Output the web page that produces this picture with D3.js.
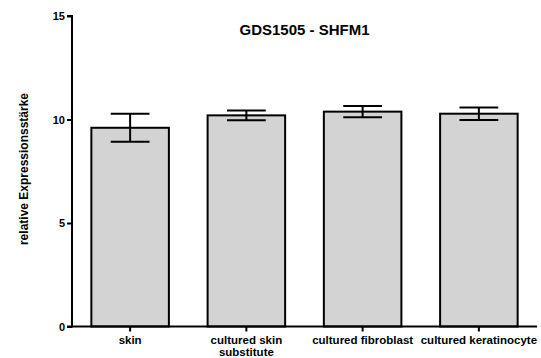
<!DOCTYPE html>
<html>
<head>
<meta charset="utf-8">
<script src="https://cdn.jsdelivr.net/npm/d3@7"></script>
<style>
  html, body { margin: 0; padding: 0; background: #fff; }
  text { font-family: "Liberation Sans", Arial, sans-serif; font-weight: bold; fill: #000; }
</style>
</head>
<body>
<svg id="chart" width="541" height="358"></svg>
<script>
// Mean expression per sample type with standard error
const categories = ["skin", "cultured skin\nsubstitute", "cultured fibroblast", "cultured keratinocyte"];
const means = [9.6, 10.2, 10.38, 10.28];
const errors = [0.68, 0.24, 0.27, 0.3];
const yTicks = [0, 5, 10, 15];
const title = "GDS1505 - SHFM1";
const yLabel = "relative Expressionsstärke";

const svg = d3.select("#chart");
const plotLeft = 72, plotRight = 537, plotTop = 16, plotBottom = 326.5;

const x = d3.scaleBand().domain(categories).range([plotLeft, plotRight]).paddingInner(0.333).paddingOuter(0.1665);
const y = d3.scaleLinear().domain([0, 15]).range([plotBottom, plotTop]);

// Bars
svg.append("g").selectAll("rect").data(categories).join("rect")
  .attr("x", d => x(d))
  .attr("y", (d, i) => y(means[i]))
  .attr("width", x.bandwidth())
  .attr("height", (d, i) => y(0) - y(means[i]))
  .attr("fill", "#d3d3d3")
  .attr("stroke", "#000")
  .attr("stroke-width", 2);

// Error bars
const eb = svg.append("g").attr("stroke", "#000").attr("stroke-width", 2);
categories.forEach((c, i) => {
  const cx = x(c) + x.bandwidth() / 2;
  const cap = x.bandwidth() / 4;
  const hi = y(means[i] + errors[i]), lo = y(means[i] - errors[i]);
  eb.append("line").attr("x1", cx).attr("x2", cx).attr("y1", hi).attr("y2", lo);
  eb.append("line").attr("x1", cx - cap).attr("x2", cx + cap).attr("y1", hi).attr("y2", hi);
  eb.append("line").attr("x1", cx - cap).attr("x2", cx + cap).attr("y1", lo).attr("y2", lo);
});

// Y axis
const yAxis = svg.append("g").attr("transform", `translate(${plotLeft},0)`)
  .call(d3.axisLeft(y).tickValues(yTicks).tickSize(5).tickPadding(2).tickFormat(d3.format("d")));
yAxis.select(".domain").attr("stroke-width", 2).attr("d", `M-5,${plotTop}H0V${plotBottom}H-5`);
yAxis.selectAll(".tick line").attr("stroke-width", 2);
yAxis.selectAll("text").style("font-size", "11px");

// X axis
const xAxis = svg.append("g").attr("transform", `translate(0,${plotBottom})`)
  .call(d3.axisBottom(x).tickSize(5).tickFormat(""));
xAxis.select(".domain").attr("stroke-width", 2).attr("d", `M${plotLeft},0H${plotRight}`);
xAxis.selectAll(".tick line").attr("stroke-width", 2);

// Category labels (multi-line)
svg.append("g").selectAll("text").data(categories).join("text")
  .attr("text-anchor", "middle")
  .attr("transform", d => `translate(${x(d) + x.bandwidth() / 2},${plotBottom + 17})`)
  .style("font-size", "11.5px")
  .each(function(d) {
    d.split("\n").forEach((line, k) => {
      d3.select(this).append("tspan").attr("x", 0).attr("dy", k === 0 ? 0 : 12.5).text(line);
    });
  });

// Title
svg.append("text").attr("x", (plotLeft + plotRight) / 2).attr("y", 35)
  .attr("text-anchor", "middle").style("font-size", "15px").text(title);

// Y axis label
svg.append("text").attr("transform", `translate(28,169) rotate(-90)`)
  .attr("text-anchor", "middle").style("font-size", "12px").text(yLabel);
</script>
</body>
</html>
